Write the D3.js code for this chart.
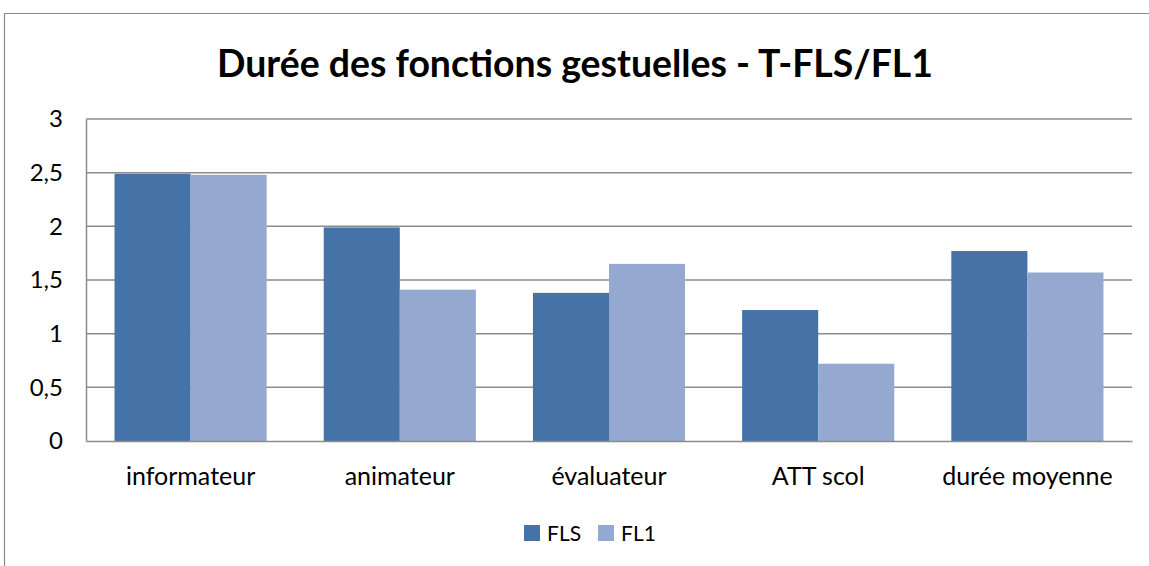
<!DOCTYPE html>
<html>
<head>
<meta charset="utf-8">
<script src="https://cdn.jsdelivr.net/npm/d3@7"></script>
<style>
  body { margin: 0; background: #fff; }
  text { font-family: Lato, "Open Sans", sans-serif; fill: #000; }
</style>
</head>
<body>
<svg id="chart" width="1149" height="566"></svg>
<script>
// data
const categories = ["informateur", "animateur", "évaluateur", "ATT scol", "durée moyenne"];
const seriesNames = ["FLS", "FL1"];
const fls = [2.49, 1.99, 1.38, 1.22, 1.77];
const fl1 = [2.48, 1.41, 1.65, 0.72, 1.57];
const yTicks = [0, 0.5, 1, 1.5, 2, 2.5, 3];
const title = "Durée des fonctions gestuelles - T-FLS/FL1";

const colors = ["#4572a7", "#95a9d0"];
const svg = d3.select("#chart");
const plotL = 86, plotR = 1132, plotT = 119, plotB = 441;

// outer frame (cut off at right / bottom like the source)
svg.append("path")
  .attr("d", "M4.5,566 L4.5,13.5 L1149,13.5")
  .attr("fill", "none").attr("stroke", "#8a8a8a").attr("stroke-width", 1.2);

svg.append("text")
  .attr("x", 575).attr("y", 77)
  .attr("text-anchor", "middle")
  .attr("font-weight", "bold").attr("font-size", 38)
  .attr("textLength", 716).attr("lengthAdjust", "spacingAndGlyphs")
  .text(title);

const x = d3.scaleBand().domain(categories).range([plotL, plotR]).paddingInner(0).paddingOuter(0);
const y = d3.scaleLinear().domain([0, 3]).range([plotB, plotT]);

// gridlines
svg.append("g").selectAll("line").data(yTicks.filter(d => d > 0)).join("line")
  .attr("x1", plotL).attr("x2", plotR)
  .attr("y1", d => y(d)).attr("y2", d => y(d))
  .attr("stroke", "#8c8c8c").attr("stroke-width", 1.5);

// bars
const barW = x.bandwidth() / (2 + 0.75);
const gap = barW * 0.75;
const series = [fls, fl1];
series.forEach((vals, si) => {
  svg.append("g").selectAll("rect").data(vals).join("rect")
    .attr("x", (d, i) => x(categories[i]) + gap / 2 + si * barW)
    .attr("y", d => y(d))
    .attr("width", barW)
    .attr("height", d => plotB - y(d))
    .attr("fill", colors[si]);
});

// y axis
const yAxis = svg.append("g").attr("transform", `translate(${plotL},0)`)
  .call(d3.axisLeft(y).tickValues(yTicks).tickSize(0).tickPadding(23)
    .tickFormat(d => String(d).replace(".", ",")));
yAxis.select(".domain").attr("stroke", "#8c8c8c").attr("stroke-width", 1.5);
yAxis.selectAll("text").attr("font-size", 24).attr("font-family", "Lato, sans-serif").attr("fill", "#000");

// x axis
const xAxis = svg.append("g").attr("transform", `translate(0,${plotB})`)
  .call(d3.axisBottom(x).tickSize(0).tickPadding(26));
xAxis.select(".domain").attr("stroke", "#8c8c8c").attr("stroke-width", 1.5);
xAxis.selectAll("text").attr("font-size", 25).attr("font-family", "Lato, sans-serif").attr("fill", "#000");

// legend
const legendX = [524, 598];
const lg = svg.append("g").selectAll("g").data(seriesNames).join("g")
  .attr("transform", (d, i) => `translate(${legendX[i]},525)`);
lg.append("rect").attr("width", 16).attr("height", 16).attr("fill", (d, i) => colors[i]);
lg.append("text").attr("x", 23).attr("y", 16).attr("font-size", 21).text(d => d);
</script>
</body>
</html>
